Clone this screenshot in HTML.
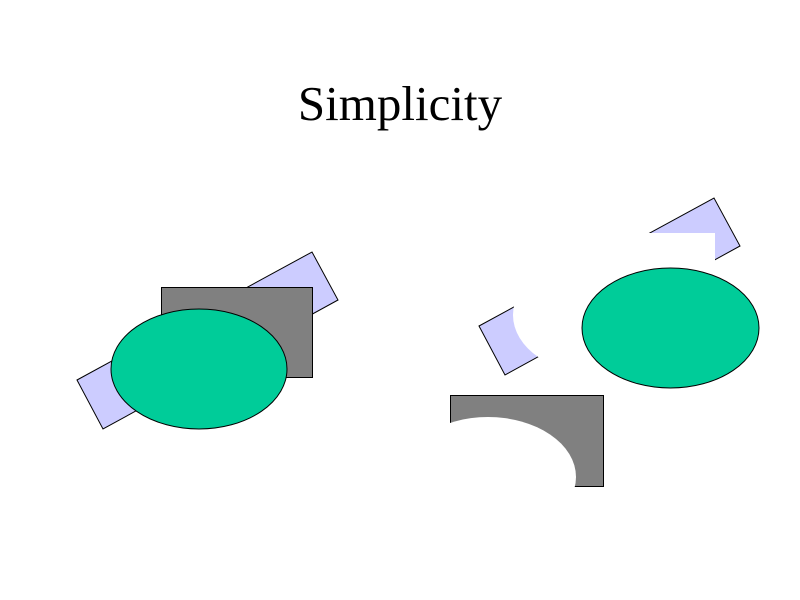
<!DOCTYPE html>
<html><head><meta charset="utf-8"><style>
html,body{margin:0;padding:0;background:#fff;width:800px;height:600px;overflow:hidden}
</style></head><body>
<svg width="800" height="600" xmlns="http://www.w3.org/2000/svg">
<defs>
<mask id="m1" maskUnits="userSpaceOnUse" x="0" y="0" width="800" height="600">
<rect x="0" y="0" width="800" height="600" fill="#fff"/>
<rect x="563" y="233" width="152" height="90" fill="#000"/>
<ellipse cx="601" cy="315" rx="88" ry="60" fill="#000"/>
</mask>
<mask id="m2" maskUnits="userSpaceOnUse" x="0" y="0" width="800" height="600">
<rect x="0" y="0" width="800" height="600" fill="#fff"/>
<ellipse cx="488" cy="477" rx="88" ry="60" fill="#000"/>
</mask>
</defs>
<text x="400" y="120" text-anchor="middle" font-family="Liberation Serif, serif" font-size="49">Simplicity</text>
<!-- left group -->
<polygon points="77,380 103,429 338,300 312,252" fill="#ccccff" stroke="#000" stroke-width="1"/>
<rect x="161.5" y="287.5" width="151" height="90" fill="#808080" stroke="#000" stroke-width="1"/>
<ellipse cx="199" cy="369" rx="88" ry="60" fill="#00cc99" stroke="#000" stroke-width="1"/>
<!-- right group -->
<polygon points="479,326 505,375 740,246 714,198" fill="#ccccff" stroke="#000" stroke-width="1" mask="url(#m1)"/>
<rect x="450.5" y="395.5" width="153" height="91" fill="#808080" stroke="#000" stroke-width="1" mask="url(#m2)"/>
<ellipse cx="670.5" cy="328" rx="88.5" ry="60" fill="#00cc99" stroke="#000" stroke-width="1"/>
</svg>
</body></html>
